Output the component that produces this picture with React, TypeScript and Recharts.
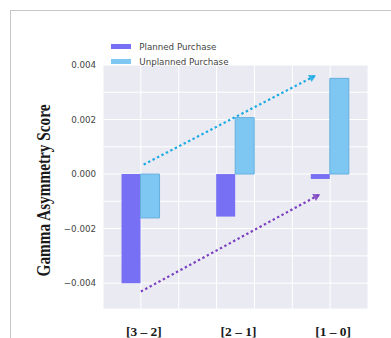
import { BarChart, Bar, XAxis, YAxis, CartesianGrid, Legend, ReferenceLine } from 'recharts';

// Asymmetry score per transition window
const categories = ['[3 – 2]', '[2 – 1]', '[1 – 0]'];
const plannedScores = [-0.00401, -0.00156, -0.00018];
const unplannedScores = [-0.00161, 0.00207, 0.00351];

const yTicks = [-0.004, -0.002, 0, 0.002, 0.004];
const gridYTicks = [-0.004, -0.003, -0.002, -0.001, 0, 0.001, 0.002, 0.003, 0.004];
const gridXTicks = [-0.4, 0, 0.4, 0.8, 1.2, 1.6, 2.0, 2.4];

// Trend arrows (data coordinates)
const unplannedTrend = [{ x: 0.03, y: 0.00035 }, { x: 1.85, y: 0.00362 }];
const plannedTrend = [{ x: 0.0, y: -0.00431 }, { x: 1.895, y: -0.00074 }];

const PLANNED = '#7770F4';
const UNPLANNED = '#7DC7F2';

const rows = categories.map((label, i) => ({
    pos: i,
    label,
    planned: plannedScores[i],
    unplanned: unplannedScores[i],
}));

const tickFont = '"DejaVu Sans", sans-serif';
const serif = '"Liberation Serif", "Times New Roman", serif';

const fmtY = (v: number) => (v < 0 ? '\u2212' + Math.abs(v).toFixed(3) : v.toFixed(3));

const CategoryTick = ({ x, payload }: any) => (
    <g transform={`translate(${x + 3},335.5) scale(1.12,1)`}>
        <text textAnchor="middle" fontFamily={serif} fontWeight="bold" fontSize={12} fill="#1a1a1a">
            {categories[payload.value] ?? ''}
        </text>
    </g>
);

const YTitle = () => (
    <g transform={`translate(44,190.5) scale(1.2,1) rotate(-90)`}>
        <text textAnchor="middle" dominantBaseline="central" fontFamily={serif} fontWeight="bold" fontSize={15.3} fill="#1a1a1a">
            Gamma Asymmetry Score
        </text>
    </g>
);

const arrowShape = (color: string) => (props: any) => {
    const { x1, y1, x2, y2 } = props;
    const ang = Math.atan2(y1 - y2, x1 - x2);
    const len = 8;
    const w1 = { x: x2 + len * Math.cos(ang + Math.PI / 6), y: y2 + len * Math.sin(ang + Math.PI / 6) };
    const w2 = { x: x2 + len * Math.cos(ang - Math.PI / 6), y: y2 + len * Math.sin(ang - Math.PI / 6) };
    return (
        <g>
            <line x1={x1} y1={y1} x2={x2} y2={y2} stroke={color} strokeWidth={2.2} strokeDasharray="2.4 2.6" />
            <polygon points={`${x2},${y2} ${w1.x},${w1.y} ${w2.x},${w2.y}`} fill={color} fillOpacity={0.85} />
        </g>
    );
};

const LegendBox = ({ payload }: any) => (
    <div style={{ fontFamily: tickFont, fontSize: 8.7, color: '#444' }}>
        {(payload || []).map((p: any) => (
            <div key={p.value} style={{ display: 'flex', alignItems: 'center', height: 15 }}>
                <span style={{ display: 'inline-block', width: 20, height: 5.5, background: p.color, marginRight: 8.6 }} />
                <span>{p.value}</span>
            </div>
        ))}
    </div>
);

export default function App() {
    return (
        <div style={{ position: 'fixed', left: 0, top: 0, width: 391, height: 338, overflow: 'hidden', background: '#fff' }}>
            <div style={{ position: 'absolute', left: 10, top: 10, width: 420, height: 380, border: '1.5px solid #c6c6c6' }} />
            <div style={{ position: 'absolute', left: 0, top: 0 }}>
                <BarChart width={391} height={338} data={rows} margin={{ top: 35, right: 23, bottom: 0, left: 43 }} barGap={0}>
                    {/* hidden axes that only carry the finer grid spacing */}
                    <XAxis xAxisId="grid" orientation="top" type="number" dataKey="pos" domain={[-0.4, 2.4]} ticks={gridXTicks} allowDataOverflow hide />
                    <YAxis yAxisId="grid" orientation="right" type="number" domain={[-0.00495, 0.004]} ticks={gridYTicks} allowDataOverflow hide />
                    <CartesianGrid xAxisId="grid" yAxisId="grid" fill="#EAEAF2" stroke="#ffffff" strokeWidth={1} />
                    <XAxis
                        xAxisId="cat"
                        type="number"
                        dataKey="pos"
                        domain={[-0.4, 2.4]}
                        ticks={[0, 1, 2]}
                        allowDataOverflow
                        height={29}
                        axisLine={false}
                        tickLine={false}
                        tick={<CategoryTick />}
                    />
                    <YAxis
                        yAxisId="val"
                        type="number"
                        domain={[-0.00495, 0.004]}
                        ticks={yTicks}
                        allowDataOverflow
                        width={60}
                        axisLine={false}
                        tickLine={false}
                        tickSize={6}
                        tickMargin={1}
                        tickFormatter={fmtY}
                        tick={{ fill: '#444', fontSize: 8.7, fontFamily: tickFont }}
                        label={<YTitle />}
                    />
                    <Legend
                        layout="vertical"
                        align="center"
                        verticalAlign="top"
                        content={<LegendBox />}
                        wrapperStyle={{ left: 110.7, top: 39.2, width: 'auto' }}
                    />
                    <Bar xAxisId="cat" yAxisId="val" dataKey="planned" name="Planned Purchase" fill={PLANNED} barSize={19} isAnimationActive={false} />
                    <Bar
                        xAxisId="cat"
                        yAxisId="val"
                        dataKey="unplanned"
                        name="Unplanned Purchase"
                        fill={UNPLANNED}
                        stroke="#66B0DD"
                        strokeWidth={1}
                        barSize={19}
                        isAnimationActive={false}
                    />
                    <ReferenceLine xAxisId="cat" yAxisId="val" segment={unplannedTrend} ifOverflow="visible" shape={arrowShape('#1BAAE4')} />
                    <ReferenceLine xAxisId="cat" yAxisId="val" segment={plannedTrend} ifOverflow="visible" shape={arrowShape('#7B3FC2')} />
                </BarChart>
            </div>
        </div>
    );
}
